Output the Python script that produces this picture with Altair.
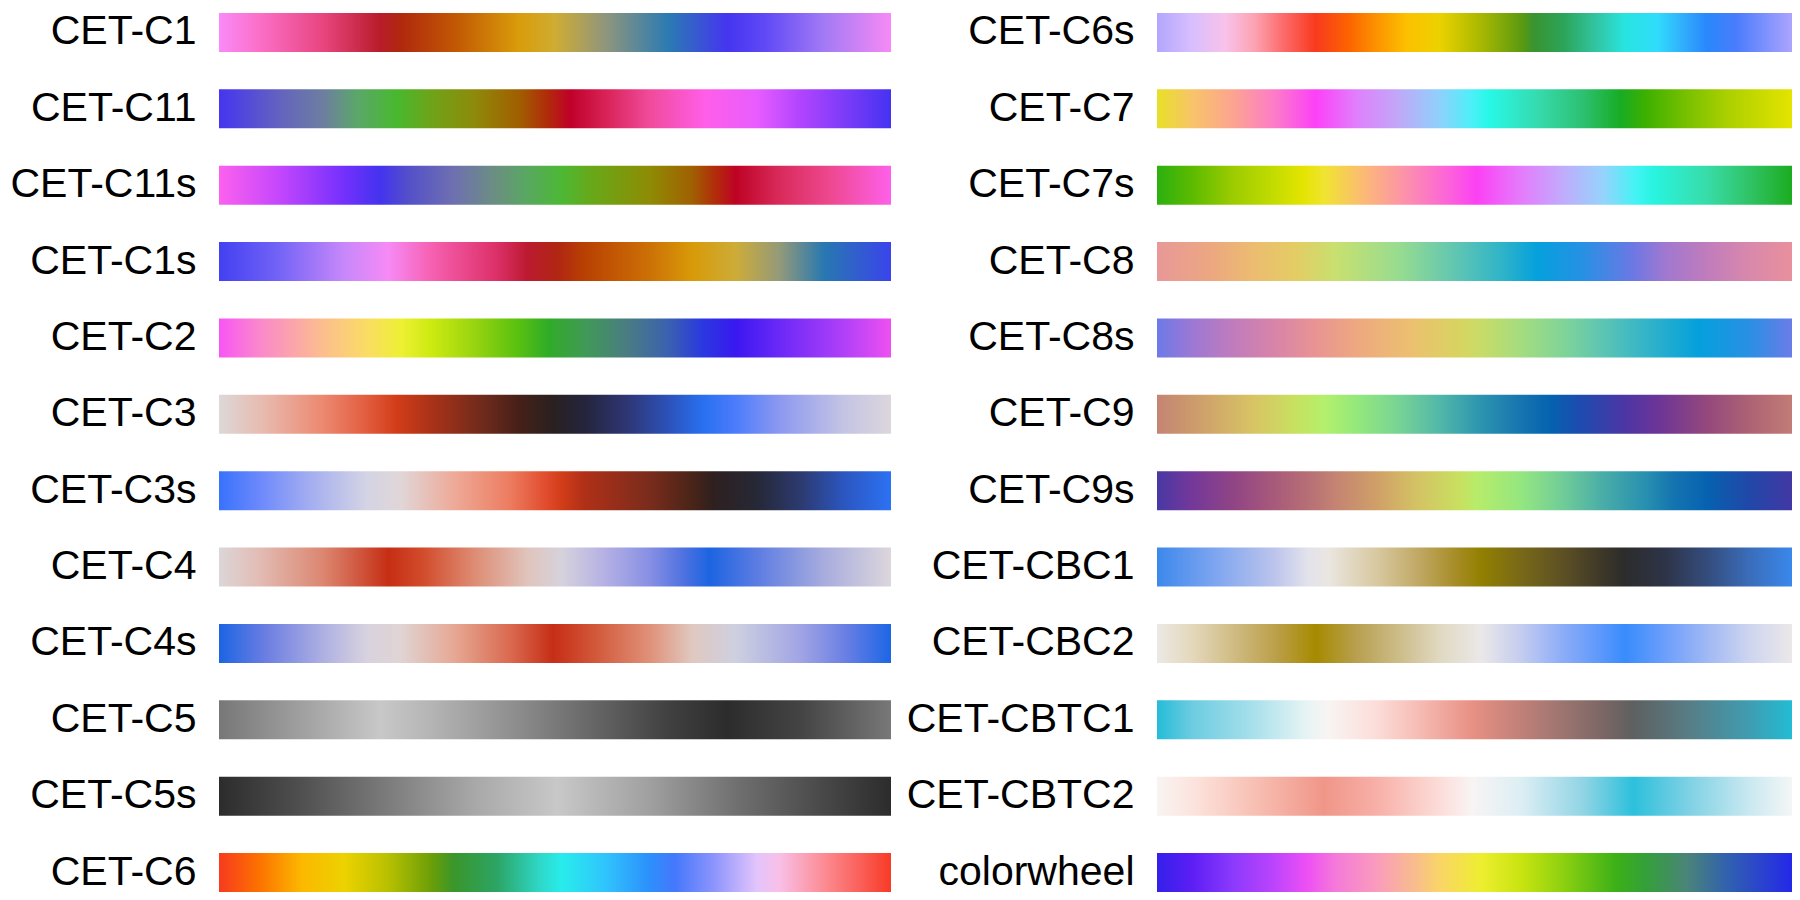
import altair as alt
import pandas as pd

LEFT_NAMES = ["CET-C1", "CET-C11", "CET-C11s", "CET-C1s", "CET-C2", "CET-C3",
              "CET-C3s", "CET-C4", "CET-C4s", "CET-C5", "CET-C5s", "CET-C6"]
RIGHT_NAMES = ["CET-C6s", "CET-C7", "CET-C7s", "CET-C8", "CET-C8s", "CET-C9",
               "CET-C9s", "CET-CBC1", "CET-CBC2", "CET-CBTC1", "CET-CBTC2", "colorwheel"]

CET_C1 = [(0.0, "#f98af8"), (0.06, "#fb6fc8"), (0.155, "#e8457f"), (0.24, "#b81c2a"),
          (0.27, "#b0280e"), (0.355, "#c25a04"), (0.446, "#d99c0a"), (0.5, "#cfac32"),
          (0.575, "#8f967c"), (0.67, "#2a7ab3"), (0.756, "#4535f0"), (0.81, "#5e48f6"),
          (0.9, "#a27af5"), (1.0, "#f68af5")]
CET_C11 = [(0.0, "#4535ef"), (0.09, "#6363bf"), (0.155, "#6d7ea0"), (0.207, "#5aa868"),
           (0.265, "#48b82e"), (0.317, "#6fa318"), (0.38, "#8e8a0a"), (0.446, "#a05f00"),
           (0.49, "#b02a0a"), (0.523, "#c0002a"), (0.575, "#d82256"), (0.64, "#f04a9a"),
           (0.723, "#ff5ee8"), (0.8, "#e85cff"), (0.866, "#b044fe"), (1.0, "#4632f2")]
CET_C11s = [(0.0, "#fc61ee"), (0.09, "#c446fc"), (0.187, "#7330fc"), (0.24, "#4433ee"),
            (0.284, "#5451c8"), (0.35, "#6f70b0"), (0.413, "#6a9080"), (0.459, "#58a860"),
            (0.51, "#4cb834"), (0.556, "#68a818"), (0.64, "#8e8c04"), (0.704, "#a06002"),
            (0.736, "#b03008"), (0.769, "#be0224"), (0.833, "#d82a5a"), (0.91, "#ee4890"),
            (1.0, "#fe60ea")]
CET_C1s = [(0.0, "#4240f2"), (0.09, "#7464f6"), (0.187, "#c888fa"), (0.252, "#f68af6"),
           (0.317, "#f660b0"), (0.413, "#dc3068"), (0.459, "#bc1a30"), (0.504, "#b02612"),
           (0.543, "#b84002"), (0.64, "#cc7006"), (0.704, "#d89a08"), (0.769, "#cdac38"),
           (0.833, "#959a78"), (0.9, "#2878b0"), (1.0, "#3a44ec")]
CET_C2 = [(0.0, "#f855f4"), (0.06, "#fa88cc"), (0.155, "#fcbe8e"), (0.22, "#fadc64"),
          (0.27, "#eef034"), (0.317, "#ccea10"), (0.38, "#98d410"), (0.446, "#58c010"),
          (0.49, "#30ac28"), (0.543, "#409a54"), (0.607, "#4a7c82"), (0.67, "#3a60b0"),
          (0.72, "#2a38e0"), (0.769, "#3a18f0"), (0.833, "#6a28f8"), (0.93, "#b040f8"),
          (1.0, "#ee50f0")]
CET_C3 = [(0.0, "#ddd8d8"), (0.07, "#e8b8ac"), (0.155, "#ec8870"), (0.22, "#e25c3e"),
          (0.265, "#d23c18"), (0.317, "#a83218"), (0.394, "#6e2a1c"), (0.446, "#462018"),
          (0.497, "#2a2020"), (0.543, "#24243c"), (0.607, "#2e3674"), (0.67, "#2c52bc"),
          (0.72, "#2870f0"), (0.769, "#4c7cfc"), (0.833, "#8c98f0"), (0.93, "#c4c4e4"),
          (1.0, "#dcd6dc")]
CET_C3s = [(0.0, "#3872fc"), (0.06, "#6c88fc"), (0.136, "#a4aef0"), (0.22, "#d4d4e4"),
           (0.27, "#e0d6d8"), (0.35, "#eeaa98"), (0.433, "#ec7c60"), (0.484, "#e24e30"),
           (0.51, "#d23c18"), (0.543, "#b03018"), (0.64, "#7a2c1c"), (0.704, "#4a2418"),
           (0.736, "#2e2020"), (0.8, "#262836"), (0.866, "#2c3a70"), (0.93, "#2c56c0"),
           (1.0, "#2c72f4")]
CET_C4 = [(0.0, "#dcd6d8"), (0.06, "#e2bcb4"), (0.155, "#dc8670"), (0.207, "#d05840"),
          (0.252, "#c62e14"), (0.304, "#d24c2c"), (0.38, "#de8c74"), (0.459, "#e0c4bc"),
          (0.51, "#d6d2dc"), (0.575, "#b4b0e4"), (0.64, "#8890e4"), (0.69, "#5072e0"),
          (0.73, "#1c64e2"), (0.8, "#5c7ce2"), (0.9, "#a8acde"), (1.0, "#dcd6dc")]
CET_C4s = [(0.0, "#1c64e4"), (0.07, "#6c7ee2"), (0.155, "#aeb0e2"), (0.22, "#d8d2de"),
           (0.27, "#e0d4d4"), (0.35, "#e6a894"), (0.433, "#da6a50"), (0.497, "#c62e16"),
           (0.56, "#d2583a"), (0.64, "#e09078"), (0.704, "#e0c8c0"), (0.769, "#ced0e0"),
           (0.866, "#a0a4e4"), (0.93, "#6c80e4"), (1.0, "#1c66e6")]
CET_C5 = [(0.0, "#777777"), (0.123, "#a0a0a0"), (0.24, "#c8c8c8"), (0.317, "#b4b4b4"),
          (0.446, "#8c8c8c"), (0.575, "#606060"), (0.67, "#404040"), (0.756, "#2c2c2c"),
          (0.866, "#444444"), (1.0, "#787878")]
CET_C5s = [(0.0, "#2c2c2c"), (0.123, "#505050"), (0.252, "#7c7c7c"), (0.38, "#a8a8a8"),
           (0.504, "#c8c8c8"), (0.64, "#a0a0a0"), (0.769, "#707070"), (0.9, "#484848"),
           (1.0, "#2c2c2c")]
CET_C6 = [(0.0, "#f83a1e"), (0.06, "#fc7200"), (0.123, "#fcb800"), (0.187, "#ecd200"),
          (0.252, "#b8c000"), (0.317, "#6a9e08"), (0.349, "#3a962a"), (0.413, "#2ca464"),
          (0.478, "#2ed8c8"), (0.51, "#28ecec"), (0.575, "#30c4fc"), (0.64, "#2c90fc"),
          (0.678, "#4478fc"), (0.736, "#8c94fc"), (0.8, "#e2c4fc"), (0.833, "#f8c0e8"),
          (0.9, "#fc8c94"), (1.0, "#f83a26")]
CET_C6s = [(0.0, "#b3a6fe"), (0.055, "#d8befe"), (0.107, "#f8c2ea"), (0.152, "#fca4b4"),
           (0.198, "#fc6c6c"), (0.25, "#f83a1e"), (0.302, "#fc6400"), (0.347, "#fc9400"),
           (0.393, "#fcc000"), (0.444, "#ecd200"), (0.51, "#a8b800"), (0.574, "#5c9a10"),
           (0.594, "#389430"), (0.64, "#2ca458"), (0.69, "#32c4a0"), (0.737, "#28e4e0"),
           (0.788, "#30dcfc"), (0.834, "#30a8fc"), (0.866, "#2888fc"), (0.912, "#4a7cfc"),
           (1.0, "#aca4fe")]
CET_C7 = [(0.0, "#e8e028"), (0.055, "#f8c468"), (0.12, "#fca490"), (0.185, "#fc7cc8"),
          (0.25, "#fc40f8"), (0.315, "#e080fc"), (0.38, "#c0a8f8"), (0.444, "#90d0fc"),
          (0.496, "#4cf0f8"), (0.522, "#28f8e8"), (0.607, "#36d8a8"), (0.672, "#2cc070"),
          (0.73, "#18ac24"), (0.769, "#3cb000"), (0.834, "#78c000"), (0.9, "#acd000"),
          (1.0, "#e4e400")]
CET_C7s = [(0.0, "#2cb010"), (0.055, "#5cba00"), (0.12, "#9ccc00"), (0.185, "#c4dc00"),
           (0.23, "#e4e400"), (0.263, "#f0e430"), (0.328, "#fcb878"), (0.393, "#fc90ac"),
           (0.457, "#fc64d8"), (0.503, "#fc40f4"), (0.574, "#e47cfc"), (0.64, "#c0acfc"),
           (0.704, "#94d4fc"), (0.756, "#40f4f4"), (0.782, "#28f4e0"), (0.866, "#38dca8"),
           (0.931, "#30c468"), (1.0, "#1cac20")]
CET_C8 = [(0.0, "#e89898"), (0.088, "#eca880"), (0.152, "#ecbc70"), (0.217, "#e4cc64"),
          (0.282, "#c8e070"), (0.38, "#98dc90"), (0.477, "#5cc4b4"), (0.542, "#30b4c8"),
          (0.6, "#04a0dc"), (0.672, "#2890e4"), (0.75, "#6c78e4"), (0.8, "#a078d0"),
          (0.866, "#c07cbc"), (0.931, "#d888ac"), (1.0, "#e8909c")]
CET_C8s = [(0.0, "#6c7ae8"), (0.055, "#9c78d4"), (0.12, "#c07cbc"), (0.185, "#d884a8"),
           (0.25, "#e89494"), (0.315, "#eea880"), (0.4, "#ecc070"), (0.477, "#d8d460"),
           (0.51, "#c8dc68"), (0.574, "#a4dc80"), (0.64, "#80d498"), (0.704, "#5cc4b4"),
           (0.769, "#34b4c8"), (0.853, "#04a0dc"), (0.931, "#2890e4"), (1.0, "#6a7ce8")]
CET_C9 = [(0.0, "#c48474"), (0.055, "#cc9a6c"), (0.152, "#d8c464"), (0.217, "#c8e060"),
          (0.263, "#b4f06c"), (0.315, "#94e87c"), (0.38, "#78d494"), (0.444, "#52b8a8"),
          (0.51, "#2c94b0"), (0.574, "#1674b0"), (0.62, "#0462b0"), (0.665, "#1c4cb0"),
          (0.737, "#4c36a4"), (0.788, "#6c3498"), (0.866, "#94487c"), (0.931, "#ac6274"),
          (1.0, "#c27c76")]
CET_C9s = [(0.0, "#4838a4"), (0.055, "#74389a"), (0.12, "#904484"), (0.185, "#a85a7a"),
           (0.25, "#ba7474"), (0.282, "#c48472"), (0.347, "#d0a068"), (0.412, "#d4c464"),
           (0.477, "#c8e060"), (0.503, "#b8ec6a"), (0.574, "#94e680"), (0.64, "#70cc98"),
           (0.704, "#48aca8"), (0.769, "#2890b0"), (0.814, "#1474b0"), (0.866, "#0662b0"),
           (0.931, "#2048a8"), (1.0, "#4238a4")]
CET_CBC1 = [(0.0, "#3c88ec"), (0.088, "#7ca4f0"), (0.185, "#bcc4ec"), (0.237, "#e2e2ec"),
            (0.27, "#eae6e0"), (0.347, "#d8c8a0"), (0.412, "#c0a864"), (0.477, "#a48a20"),
            (0.51, "#928000"), (0.574, "#786818"), (0.64, "#5c5024"), (0.704, "#3c3628"),
            (0.737, "#2c2c2c"), (0.8, "#2e3448"), (0.866, "#344c7c"), (0.931, "#3a6cb8"),
            (1.0, "#3a88ec")]
CET_CBC2 = [(0.0, "#ece8e4"), (0.055, "#e4d8bc"), (0.12, "#d0bc84"), (0.185, "#bca04c"),
            (0.25, "#a68a00"), (0.315, "#b8a050"), (0.38, "#ccbc88"), (0.444, "#e0d8c0"),
            (0.51, "#eae8e8"), (0.574, "#c4ccf0"), (0.64, "#8cacf8"), (0.704, "#5896fc"),
            (0.737, "#388cfc"), (0.8, "#6c9efc"), (0.866, "#a0b8f4"), (0.931, "#ccd4f0"),
            (1.0, "#ece8e8")]
CET_CBTC1 = [(0.0, "#24bcd8"), (0.055, "#6ccce0"), (0.152, "#a8e0ec"), (0.237, "#e8f4f4"),
             (0.27, "#f8f4f2"), (0.347, "#fcdcd8"), (0.412, "#f6bcb4"), (0.496, "#e89084"),
             (0.574, "#c08078"), (0.64, "#9c7470"), (0.704, "#7a6664"), (0.75, "#5e6060"),
             (0.834, "#587c84"), (0.931, "#409cb0"), (1.0, "#22bcd4")]
CET_CBTC2 = [(0.0, "#f8f4f2"), (0.055, "#fce4de"), (0.152, "#f8c0b4"), (0.263, "#f09688"),
             (0.347, "#f8b0a8"), (0.444, "#fcdcd8"), (0.496, "#f8f4f4"), (0.574, "#dceef4"),
             (0.672, "#90d4e4"), (0.75, "#2cc0dc"), (0.834, "#7cd0e4"), (0.931, "#c8e8f0"),
             (1.0, "#f4f6f6")]
COLORWHEEL = [(0.0, "#3420ea"), (0.055, "#5c1ef4"), (0.12, "#8c3afc"), (0.185, "#bc44fc"),
              (0.237, "#ee50f4"), (0.282, "#f47ad8"), (0.347, "#fa9cbc"), (0.412, "#f8c088"),
              (0.444, "#fad468"), (0.51, "#eeee30"), (0.574, "#c8e410"), (0.64, "#8cd010"),
              (0.723, "#3cb018"), (0.769, "#34a038"), (0.834, "#4a8478"), (0.9, "#3060b0"),
              (1.0, "#2428e8")]

STOPS = {
    "CET-C1": CET_C1, "CET-C11": CET_C11, "CET-C11s": CET_C11s, "CET-C1s": CET_C1s,
    "CET-C2": CET_C2, "CET-C3": CET_C3, "CET-C3s": CET_C3s, "CET-C4": CET_C4,
    "CET-C4s": CET_C4s, "CET-C5": CET_C5, "CET-C5s": CET_C5s, "CET-C6": CET_C6,
    "CET-C6s": CET_C6s, "CET-C7": CET_C7, "CET-C7s": CET_C7s, "CET-C8": CET_C8,
    "CET-C8s": CET_C8s, "CET-C9": CET_C9, "CET-C9s": CET_C9s, "CET-CBC1": CET_CBC1,
    "CET-CBC2": CET_CBC2, "CET-CBTC1": CET_CBTC1, "CET-CBTC2": CET_CBTC2,
    "colorwheel": COLORWHEEL,
}


def column(names, width, extent):
    df = pd.DataFrame({"name": names, "start": [0.0] * len(names), "end": [1.0] * len(names)})
    base = alt.Chart(df)
    layers = []
    for n in names:
        grad = alt.LinearGradient(
            gradient="linear",
            stops=[alt.GradientStop(offset=o, color=c) for o, c in STOPS[n]],
            x1=0, x2=1, y1=0, y2=0,
        )
        layers.append(
            base.transform_filter(alt.datum.name == n)
            .mark_rect(color=grad)
            .encode(
                x=alt.X("start:Q", scale=alt.Scale(domain=[0, 1], nice=False, zero=False), axis=None),
                x2="end",
                y=alt.Y(
                    "name:N",
                    sort=names,
                    scale=alt.Scale(paddingInner=0.49, paddingOuter=0),
                    axis=alt.Axis(
                        title=None, ticks=False, domain=False, grid=False,
                        labelFontSize=41, labelPadding=23, labelColor="black",
                        labelFont="Liberation Sans", labelLimit=400,
                        minExtent=extent, maxExtent=extent,
                    ),
                ),
            )
        )
    return alt.layer(*layers).properties(width=width, height=879)


left = column(LEFT_NAMES, 672, 211)
right = column(RIGHT_NAMES, 635, 250)

chart = (
    alt.hconcat(left, right, spacing=15)
    .properties(padding={"left": 0, "top": 2, "right": 0, "bottom": 0}, background="white")
    .configure_view(stroke=None)
)

chart.save("out.html", embed_options={"renderer": "svg", "actions": False})
